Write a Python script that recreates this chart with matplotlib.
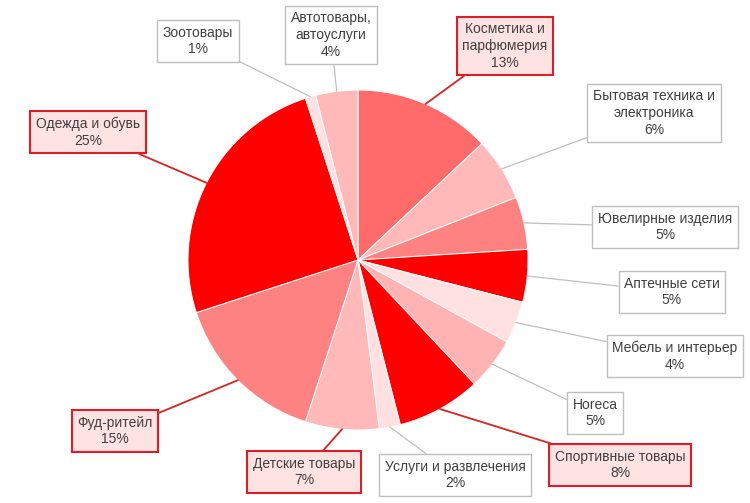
import numpy as np
import matplotlib
matplotlib.use("Agg")
import matplotlib.pyplot as plt

plt.rcParams['font.family'] = ['Liberation Sans', 'DejaVu Sans']

categories = ['Косметика и\nпарфюмерия', 'Бытовая техника и\nэлектроника', 'Ювелирные изделия',
              'Аптечные сети', 'Мебель и интерьер', 'Horeca', 'Спортивные товары',
              'Услуги и развлечения', 'Детские товары', 'Фуд-ритейл', 'Одежда и обувь',
              'Зоотовары', 'Автотовары,\nавтоуслуги']
shares = [13, 6, 5, 5, 4, 5, 8, 2, 7, 15, 25, 1, 4]
colors = ['#FF6B6B', '#FFB9B9', '#FF8282', '#FF0000', '#FFE1E1', '#FFB3B3', '#FF0000',
          '#FFE1E1', '#FFB9B9', '#FF8282', '#FF0000', '#FFE1E1', '#FFB9B9']
highlight = [True, False, False, False, False, False, True, False, True, True, True, False, False]

# label box centres in pixel coords (y from top)
box_pos = [(505, 46), (654, 113), (665, 227), (672, 292), (675, 356), (595, 413), (620, 465),
           (455, 475), (304, 472), (115, 431), (88, 132), (198, 41), (331, 35)]

W, H = 750, 503
fig = plt.figure(figsize=(7.5, 5.03), dpi=100)
ax = fig.add_axes([0, 0, 1, 1])

cx, cy, r = 358, H - 260, 170
wedges, _ = ax.pie(shares, colors=colors, startangle=90, counterclock=False,
                   center=(cx, cy), radius=r, frame=True,
                   wedgeprops=dict(edgecolor='white', linewidth=0.7))
ax.set_xlim(0, W)
ax.set_ylim(0, H)
ax.set_aspect('equal')
ax.axis('off')

for w, lab, s, hl, (bx, by) in zip(wedges, categories, shares, highlight, box_pos):
    ang = np.deg2rad((w.theta1 + w.theta2) / 2)
    px = cx + r * np.cos(ang)
    py = cy + r * np.sin(ang)
    if hl:
        ec, fc, lc, lw = '#DC1E28', '#FFE3E3', '#D42A2A', 1.5
    else:
        ec, fc, lc, lw = '#BFBFBF', 'white', '#BFBFBF', 1.0
    ax.annotate(f'{lab}\n{s}%', xy=(px, py), xytext=(bx, H - by),
                ha='center', va='center', fontsize=10, color='#404040',
                linespacing=1.25,
                bbox=dict(boxstyle='square,pad=0.4', fc=fc, ec=ec, lw=lw),
                arrowprops=dict(arrowstyle='-', color=lc, lw=lw * 0.9,
                                shrinkA=0, shrinkB=0))

fig.savefig('out.png', dpi=100, facecolor='white')
